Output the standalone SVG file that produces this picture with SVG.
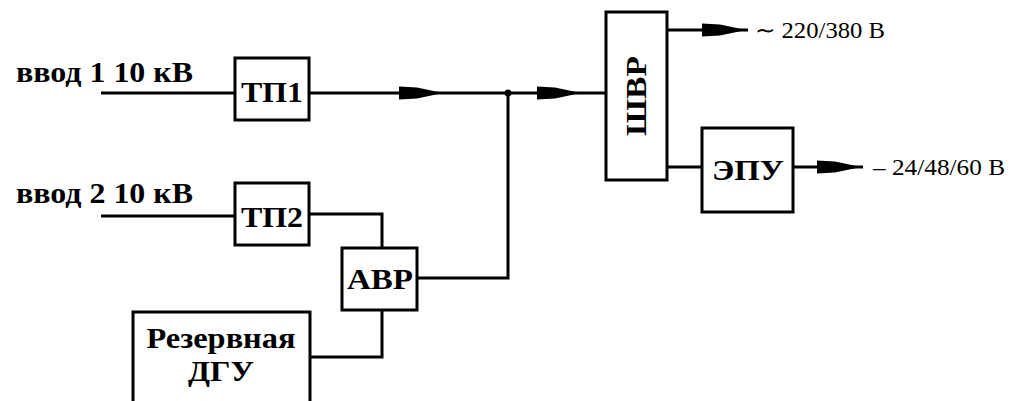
<svg xmlns="http://www.w3.org/2000/svg" width="1013" height="401" viewBox="0 0 1013 401">
<style>
.box{fill:#fff;stroke:#000;stroke-width:3}
.ln{fill:none;stroke:#000;stroke-width:3}
.b{font-family:"Liberation Serif","Times New Roman",serif;font-weight:bold;font-size:30px;fill:#000}
.n{font-family:"Liberation Serif","Times New Roman",serif;font-size:23px;fill:#000}
</style>
<defs>
<path id="arr" d="M0,-6.5 L18,-5.5 L44,0 L18,5.5 L0,6.5 Z" fill="#000"/>
</defs>
<g id="connectors">
<polyline class="ln" points="101,93 235,93"/>
<polyline class="ln" points="101,216 235,216"/>
<polyline class="ln" points="309,93 606,93"/>
<polyline class="ln" points="309,214 382,214 382,248"/>
<polyline class="ln" points="417,278 508,278 508,93"/>
<polyline class="ln" points="382,310 382,357 310,357"/>
<polyline class="ln" points="667,30 748,30"/>
<polyline class="ln" points="667,167 702,167"/>
<polyline class="ln" points="793,167 863,167"/>
<circle cx="508" cy="93" r="3.5" fill="#000"/>
<use href="#arr" x="399" y="93"/>
<use href="#arr" x="537" y="93"/>
<use href="#arr" x="702" y="30"/>
<use href="#arr" x="817" y="167"/>
</g>
<g id="label-vvod1"><text class="b" x="16" y="82" textLength="177" lengthAdjust="spacingAndGlyphs">ввод 1 10 кВ</text></g>
<g id="label-vvod2"><text class="b" x="16" y="203" textLength="177" lengthAdjust="spacingAndGlyphs">ввод 2 10 кВ</text></g>
<g id="tp1"><rect class="box" x="235" y="58" width="74" height="62"/><text class="b" x="272" y="102" text-anchor="middle" textLength="62" lengthAdjust="spacingAndGlyphs">ТП1</text></g>
<g id="tp2"><rect class="box" x="235" y="183" width="74" height="62"/><text class="b" x="272" y="227" text-anchor="middle" textLength="62" lengthAdjust="spacingAndGlyphs">ТП2</text></g>
<g id="avr"><rect class="box" x="342" y="248" width="75" height="62"/><text class="b" x="380" y="289" text-anchor="middle" textLength="66" lengthAdjust="spacingAndGlyphs">АВР</text></g>
<g id="dgu"><rect class="box" x="133" y="312" width="177" height="100"/><text class="b" x="221" y="348" text-anchor="middle" textLength="149" lengthAdjust="spacingAndGlyphs">Резервная</text><text class="b" x="221" y="381" text-anchor="middle" textLength="66" lengthAdjust="spacingAndGlyphs">ДГУ</text></g>
<g id="shvr"><rect class="box" x="606" y="12" width="61" height="168"/><text class="b" transform="translate(646,96) rotate(-90)" text-anchor="middle" textLength="80" lengthAdjust="spacingAndGlyphs">ШВР</text></g>
<g id="epu"><rect class="box" x="702" y="128" width="91" height="84"/><text class="b" x="748" y="180" text-anchor="middle" textLength="72" lengthAdjust="spacingAndGlyphs">ЭПУ</text></g>
<g id="out-ac"><text class="n" x="755" y="38" textLength="130" lengthAdjust="spacingAndGlyphs">∼ 220/380 В</text></g>
<g id="out-dc"><text class="n" x="873" y="175" textLength="132" lengthAdjust="spacingAndGlyphs">– 24/48/60 В</text></g>
</svg>
